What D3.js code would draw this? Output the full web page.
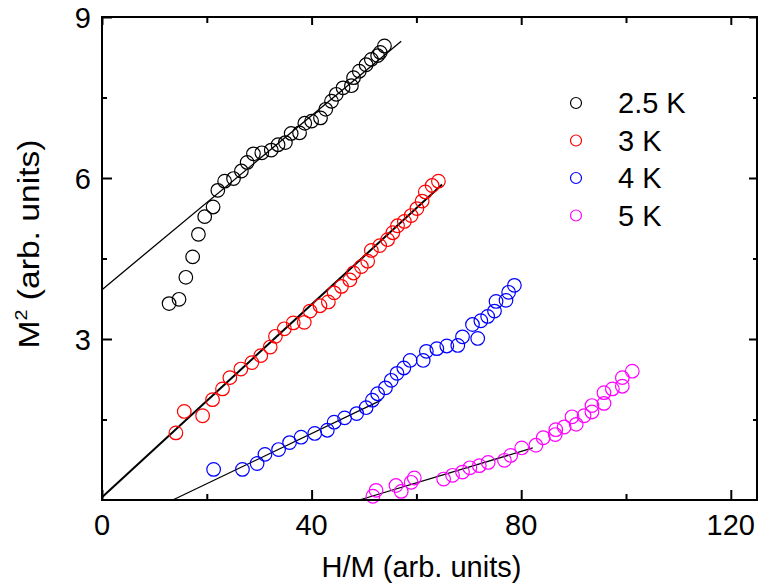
<!DOCTYPE html>
<html>
<head>
<meta charset="utf-8">
<script src="https://cdn.jsdelivr.net/npm/d3@7/dist/d3.min.js"></script>
<style>
  body { margin: 0; background: #fff; }
  text { font-family: Arial, "Liberation Sans", sans-serif; fill: #000; }
</style>
</head>
<body>
<div id="chart"></div>
<script>
// M^2 vs H/M (Arrott plot)
const xTicks = [0, 40, 80, 120];
const yTicks = [3, 6, 9];

const hm25 = [12.8, 14.7, 16.0, 17.3, 18.4, 19.6, 21.2, 22.1, 23.4, 25.1, 26.6, 27.7, 28.9, 30.5, 32.3, 33.6, 35.0, 36.1, 37.7, 38.7, 40.0, 41.7, 42.7, 43.8, 44.7, 46.0, 47.6, 48.0, 49.1, 50.4, 51.4, 52.6, 53.1, 53.9];
const m25 = [3.66, 3.74, 4.15, 4.53, 4.95, 5.28, 5.46, 5.77, 5.94, 5.99, 6.13, 6.29, 6.45, 6.47, 6.52, 6.62, 6.66, 6.83, 6.84, 7.02, 7.06, 7.12, 7.28, 7.43, 7.56, 7.68, 7.72, 7.87, 7.99, 8.11, 8.21, 8.28, 8.34, 8.46];

const hm3 = [14.1, 15.7, 19.2, 21.1, 23.0, 24.4, 26.5, 28.6, 30.3, 32.1, 33.1, 34.8, 36.5, 38.6, 39.7, 41.6, 43.2, 44.3, 45.7, 47.3, 48.0, 49.5, 50.7, 51.4, 53.0, 54.5, 55.5, 56.4, 57.7, 59.0, 60.1, 61.1, 61.7, 63.0, 64.2];
const m3 = [1.25, 1.65, 1.57, 1.87, 2.07, 2.28, 2.44, 2.56, 2.69, 2.85, 3.05, 3.19, 3.30, 3.31, 3.52, 3.62, 3.69, 3.86, 3.98, 4.10, 4.23, 4.35, 4.45, 4.65, 4.74, 4.85, 4.98, 5.11, 5.19, 5.30, 5.43, 5.57, 5.74, 5.86, 5.94];

const hm4 = [21.3, 26.8, 29.6, 31.1, 33.7, 35.8, 38.0, 40.6, 43.0, 44.3, 46.3, 48.6, 50.4, 51.6, 52.6, 54.1, 55.2, 56.3, 57.6, 58.8, 61.3, 61.9, 63.9, 65.8, 67.9, 68.8, 71.7, 70.7, 72.3, 73.6, 74.9, 75.2, 77.1, 77.6, 78.7];
const m4 = [0.57, 0.57, 0.68, 0.85, 0.94, 1.07, 1.17, 1.24, 1.30, 1.45, 1.53, 1.61, 1.72, 1.86, 1.98, 2.09, 2.23, 2.36, 2.46, 2.60, 2.60, 2.77, 2.82, 2.87, 2.88, 3.04, 3.01, 3.27, 3.34, 3.42, 3.52, 3.70, 3.72, 3.87, 4.00];

const hm5 = [51.7, 52.3, 56.1, 57.1, 59.0, 59.6, 65.2, 66.9, 68.8, 70.2, 72.0, 73.7, 76.8, 78.0, 80.1, 82.8, 84.2, 86.5, 86.6, 88.2, 89.7, 90.5, 92.0, 93.5, 93.5, 95.8, 95.8, 97.4, 99.3, 99.3, 101.2];
const m5 = [0.07, 0.18, 0.27, 0.16, 0.33, 0.41, 0.39, 0.46, 0.52, 0.60, 0.64, 0.70, 0.74, 0.83, 0.97, 1.02, 1.16, 1.22, 1.31, 1.36, 1.55, 1.41, 1.57, 1.64, 1.76, 1.80, 2.00, 2.07, 2.12, 2.28, 2.40];

// linear fits: [x0, y0, x1, y1]
const fit25 = [0, 3.92, 57.1, 8.55];
const fit3 = [0, 0.05, 64.9, 5.88];
const fit4 = [13.5, 0, 53.3, 1.86];
const fit5 = [49.1, 0, 82.2, 0.97];

const labels = ["2.5 K", "3 K", "4 K", "5 K"];
const colors = ["#000000", "#ff0000", "#0000ff", "#ff00ff"];

const series = [
  { x: hm25, y: m25, fit: fit25 },
  { x: hm3, y: m3, fit: fit3 },
  { x: hm4, y: m4, fit: fit4 },
  { x: hm5, y: m5, fit: fit5 }
];

const width = 760, height = 588;
const margin = { top: 17, right: 3, bottom: 88, left: 102 };

const x = d3.scaleLinear().domain([0, 125]).range([margin.left, width - margin.right]);
const y = d3.scaleLinear().domain([0, 9]).range([height - margin.bottom, margin.top]);

const svg = d3.select("#chart").append("svg")
  .attr("width", width)
  .attr("height", height);

// fit lines
series.forEach((s, i) => {
  svg.append("line")
    .attr("x1", x(s.fit[0])).attr("y1", y(s.fit[1]))
    .attr("x2", x(s.fit[2])).attr("y2", y(s.fit[3]))
    .attr("stroke", "#000")
    .attr("stroke-width", i === 1 ? 2 : 1.3);
});

// data points
series.forEach((s, i) => {
  svg.append("g")
    .selectAll("circle")
    .data(s.x.map((v, j) => [v, s.y[j]]))
    .join("circle")
    .attr("cx", d => x(d[0]))
    .attr("cy", d => y(d[1]))
    .attr("r", 6.8)
    .attr("fill", "none")
    .attr("stroke", colors[i])
    .attr("stroke-width", 1.2);
});

// axes (ticks inward, mirrored on top and right)
const xMinor = d3.range(20, 125, 40);
const yMinor = [1.5, 4.5, 7.5];

function ticks(g, axis, vals, len) {
  g.call(axis.tickValues(vals).tickSize(len).tickFormat(""))
    .call(a => a.select(".domain").remove())
    .call(a => a.selectAll("line").attr("stroke-width", 2));
}

const yb = height - margin.bottom, xl = margin.left, xr = width - margin.right, yt = margin.top;

svg.append("g").attr("transform", `translate(0,${yb})`).call(ticks, d3.axisTop(x), xTicks, 10);
svg.append("g").attr("transform", `translate(0,${yb})`).call(ticks, d3.axisTop(x), xMinor, 6);
svg.append("g").attr("transform", `translate(0,${yt})`).call(ticks, d3.axisBottom(x), xTicks, 8);
svg.append("g").attr("transform", `translate(0,${yt})`).call(ticks, d3.axisBottom(x), xMinor, 6);
svg.append("g").attr("transform", `translate(${xl},0)`).call(ticks, d3.axisRight(y), yTicks, 10);
svg.append("g").attr("transform", `translate(${xl},0)`).call(ticks, d3.axisRight(y), yMinor, 5);
svg.append("g").attr("transform", `translate(${xr},0)`).call(ticks, d3.axisLeft(y), yTicks, 8);
svg.append("g").attr("transform", `translate(${xr},0)`).call(ticks, d3.axisLeft(y), yMinor, 4);

svg.append("rect")
  .attr("x", xl).attr("y", yt)
  .attr("width", xr - xl).attr("height", yb - yt)
  .attr("fill", "none").attr("stroke", "#000").attr("stroke-width", 2);

// tick labels
svg.append("g").selectAll("text")
  .data(xTicks)
  .join("text")
  .attr("x", d => x(d))
  .attr("y", yb + 35)
  .attr("text-anchor", "middle")
  .attr("font-size", 29)
  .text(d => d);

svg.append("g").selectAll("text")
  .data(yTicks)
  .join("text")
  .attr("x", xl - 11)
  .attr("y", d => y(d) + 10.5)
  .attr("text-anchor", "end")
  .attr("font-size", 29)
  .text(d => d);

// axis titles
svg.append("text")
  .attr("x", x(0) + (xr - xl) / 2 - 8)
  .attr("y", 577)
  .attr("text-anchor", "middle")
  .attr("font-size", 29)
  .text("H/M (arb. units)");

// y title is stretched along its length in the original
const yLab = svg.append("text")
  .attr("transform", "translate(39,244) rotate(-90) scale(1.16,1)")
  .attr("text-anchor", "middle")
  .attr("font-size", 29);
yLab.append("tspan").text("M");
yLab.append("tspan").attr("font-size", 17).attr("dy", -12).text("2");
yLab.append("tspan").attr("dy", 12).text(" (arb. units)");

// legend
const legend = svg.append("g").selectAll("g")
  .data(labels)
  .join("g")
  .attr("transform", (d, i) => `translate(576,${103 + i * 37.5})`);

legend.append("circle")
  .attr("r", 5.5)
  .attr("fill", "none")
  .attr("stroke", (d, i) => colors[i])
  .attr("stroke-width", 1.2);

legend.append("text")
  .attr("x", 42)
  .attr("y", 10)
  .attr("font-size", 29)
  .text(d => d);
</script>
</body>
</html>
